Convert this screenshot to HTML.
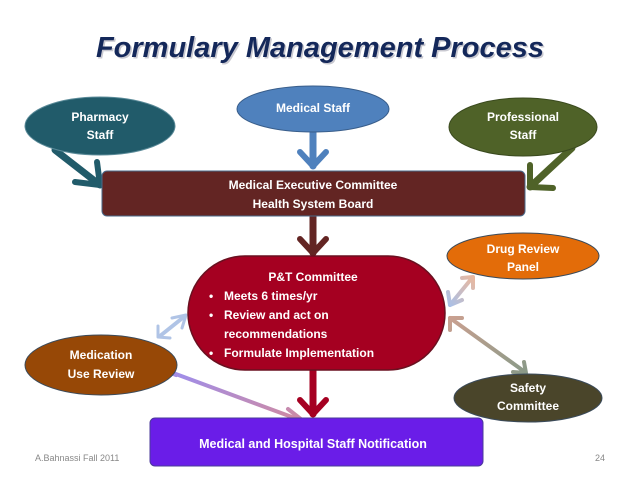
<!DOCTYPE html>
<html><head><meta charset="utf-8"><style>
html,body{margin:0;padding:0;background:#fff;}
svg{display:block;font-family:"Liberation Sans",sans-serif;}
</style></head><body>
<svg width="638" height="479" viewBox="0 0 638 479" xmlns="http://www.w3.org/2000/svg">
<defs>
<linearGradient id="gP" x1="0" y1="0" x2="1" y2="1"><stop offset="0" stop-color="#9b8ef0"/><stop offset="1" stop-color="#d08aa0"/></linearGradient>
<linearGradient id="gS" x1="0" y1="0" x2="1" y2="1"><stop offset="0" stop-color="#c9a090"/><stop offset="1" stop-color="#8a9a88"/></linearGradient>
<linearGradient id="gD" x1="0" y1="1" x2="1" y2="0"><stop offset="0" stop-color="#a9c0e8"/><stop offset="1" stop-color="#e8b8a0"/></linearGradient>
</defs>
<text x="320" y="57" text-anchor="middle" font-size="29" font-weight="bold" font-style="italic" fill="#c8c8d0" transform="translate(1.5,1.5)">Formulary Management Process</text>
<text x="320" y="57" text-anchor="middle" font-size="29" font-weight="bold" font-style="italic" fill="#14285a">Formulary Management Process</text>

<!-- arrows top -->
<g fill="none" stroke-linecap="round" stroke-linejoin="round">
<path d="M55 150 L100 185" stroke="#215b6a" stroke-width="7"/>
<path d="M75 182 L100 185 L97 162" stroke="#215b6a" stroke-width="6"/>
<path d="M313 130 L313 166" stroke="#4f81bd" stroke-width="7"/>
<path d="M300 152 L313 166 L326 152" stroke="#4f81bd" stroke-width="6"/>
<path d="M572 148 L530 187" stroke="#4f6228" stroke-width="7"/>
<path d="M530 165 L530 187 L553 188" stroke="#4f6228" stroke-width="6"/>
<path d="M313 216 L313 253" stroke="#632523" stroke-width="7"/>
<path d="M300 239 L313 253 L326 239" stroke="#632523" stroke-width="6"/>
<path d="M313 370 L313 414" stroke="#a50021" stroke-width="7"/>
<path d="M300 400 L313 414 L326 400" stroke="#a50021" stroke-width="6"/>
<!-- double arrows -->
<path d="M165 370 L300 420" stroke="url(#gP)" stroke-width="4"/>
<path d="M172 362 L163 370 L176 375 M288 409 L302 420 L290 425" stroke="url(#gP)" stroke-width="4"/>
<path d="M450 305 L472 278" stroke="url(#gD)" stroke-width="4"/>
<path d="M448 292 L450 305 L462 300 M462 278 L473 277 L473 288" stroke="url(#gD)" stroke-width="4"/>
<path d="M450 318 L525 372" stroke="url(#gS)" stroke-width="4"/>
<path d="M450 330 L450 318 L462 318 M513 372 L526 373 L524 362" stroke="url(#gS)" stroke-width="4"/>
<path d="M160 336 L185 316" stroke="#b0c4e6" stroke-width="4"/>
<path d="M172 318 L186 315 L182 328 M158 326 L158 337 L170 338" stroke="#b0c4e6" stroke-width="3"/>
</g>

<!-- nodes -->
<ellipse cx="100" cy="126" rx="75" ry="29" fill="#215b6a" stroke="#5a8a98" stroke-width="1"/>
<text x="100" y="121" text-anchor="middle" font-size="12" font-weight="bold" fill="#fff">Pharmacy</text>
<text x="100" y="139" text-anchor="middle" font-size="12" font-weight="bold" fill="#fff">Staff</text>
<ellipse cx="313" cy="109" rx="76" ry="23" fill="#4f81bd" stroke="#385d8a" stroke-width="1"/>
<text x="313" y="112" text-anchor="middle" font-size="12" font-weight="bold" fill="#fff">Medical Staff</text>
<ellipse cx="523" cy="127" rx="74" ry="29" fill="#4f6228" stroke="#3a4a1e" stroke-width="1"/>
<text x="523" y="121" text-anchor="middle" font-size="12" font-weight="bold" fill="#fff">Professional</text>
<text x="523" y="139" text-anchor="middle" font-size="12" font-weight="bold" fill="#fff">Staff</text>

<rect x="102" y="171" width="423" height="45" rx="5" fill="#632523" stroke="#4a6a8a" stroke-width="1"/>
<text x="313" y="189" text-anchor="middle" font-size="12" font-weight="bold" fill="#fff">Medical Executive Committee</text>
<text x="313" y="208" text-anchor="middle" font-size="12" font-weight="bold" fill="#fff">Health System Board</text>

<rect x="188" y="256" width="257" height="114" rx="57" fill="#a50021" stroke="#6a1020" stroke-width="1.5"/>
<g font-size="12" font-weight="bold" fill="#fff">
<text x="313" y="281" text-anchor="middle">P&amp;T Committee</text>
<text x="209" y="300">•</text><text x="224" y="300">Meets 6 times/yr</text>
<text x="209" y="319">•</text><text x="224" y="319">Review and act on</text>
<text x="224" y="338">recommendations</text>
<text x="209" y="357">•</text><text x="224" y="357">Formulate Implementation</text>
</g>

<ellipse cx="523" cy="256" rx="76" ry="23" fill="#e36c09" stroke="#3a4a5a" stroke-width="1"/>
<text x="523" y="253" text-anchor="middle" font-size="12" font-weight="bold" fill="#fff">Drug Review</text>
<text x="523" y="271" text-anchor="middle" font-size="12" font-weight="bold" fill="#fff">Panel</text>

<ellipse cx="101" cy="365" rx="76" ry="30" fill="#974806" stroke="#3a4a5a" stroke-width="1"/>
<text x="101" y="359" text-anchor="middle" font-size="12" font-weight="bold" fill="#fff">Medication</text>
<text x="101" y="378" text-anchor="middle" font-size="12" font-weight="bold" fill="#fff">Use Review</text>

<ellipse cx="528" cy="398" rx="74" ry="24" fill="#4a452a" stroke="#3a4a5a" stroke-width="1"/>
<text x="528" y="392" text-anchor="middle" font-size="12" font-weight="bold" fill="#fff">Safety</text>
<text x="528" y="410" text-anchor="middle" font-size="12" font-weight="bold" fill="#fff">Committee</text>

<rect x="150" y="418" width="333" height="48" rx="5" fill="#6a1de8" stroke="#4a3a9a" stroke-width="1"/>
<text x="313" y="448" text-anchor="middle" font-size="12.5" font-weight="bold" fill="#fff">Medical  and Hospital Staff Notification</text>

<text x="35" y="461" font-size="9" fill="#888">A.Bahnassi Fall 2011</text>
<text x="605" y="461" text-anchor="end" font-size="9" fill="#888">24</text>
</svg>
</body></html>
